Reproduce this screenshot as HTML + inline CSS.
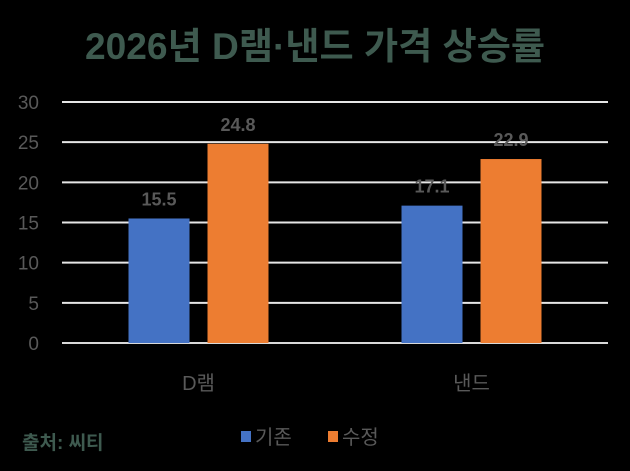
<!DOCTYPE html>
<html><head><meta charset="utf-8"><style>
html,body{margin:0;padding:0;background:#000;width:630px;height:471px;overflow:hidden}
svg text{font-family:"Liberation Sans","Noto Sans CJK KR",sans-serif}
</style></head><body>
<svg id="c" width="630" height="471">
<text x="315" y="59" text-anchor="middle" font-size="37" font-weight="bold" fill="#3e5a4f" textLength="460" lengthAdjust="spacingAndGlyphs">2026년 D램·낸드 가격 상승률</text>
<g id="grid"></g><g id="bars"></g>
<text x="22" y="449" font-size="19" font-weight="bold" fill="#3e5a4f">출처: 씨티</text>
<g>
<rect x="241" y="431" width="10" height="11" fill="#4472c4"/>
<text x="255" y="444" font-size="20" fill="#595959">기존</text>
<rect x="328" y="431" width="10" height="11" fill="#ed7d31"/>
<text x="342" y="444" font-size="20" fill="#595959">수정</text>
</g>
</svg>
<script>
const categories=["D램","낸드"];
const original=[15.5,17.1];
const revised=[24.8,22.9];
const ticks=[0,5,10,15,20,25,30];
const NS="http://www.w3.org/2000/svg";
const y0=343,y1=102,x0=62,x1=608;
const y=v=>y0-(v/30)*(y0-y1);
const cw=(x1-x0)/categories.length;
function mk(t,a,p){const e=document.createElementNS(NS,t);for(const k in a)e.setAttribute(k,a[k]);p.appendChild(e);return e;}
const g=document.getElementById('grid'),b=document.getElementById('bars');
ticks.forEach(t=>{
 const l=mk('line',{x1:x0,x2:x1,y1:y(t),y2:y(t),stroke:t===0?'#d9d9d9':'#e6e6e6','stroke-width':2},g);
 
 
 const tx=mk('text',{x:39,y:y(t)+7,'text-anchor':'end','font-size':19,fill:'#595959'},g);
 tx.textContent=t;
 
 
});
categories.forEach((c,i)=>{
 const cx=x0+cw*(i+0.5);
 [[original,'#4472c4',-70,'original'],[revised,'#ed7d31',9,'revised']].forEach(([arr,col,off,nm])=>{
  const r=mk('rect',{x:cx+off,y:y(arr[i]),width:61,height:y0-y(arr[i]),fill:col},b);
  
  
  const t=mk('text',{x:cx+off+30.5,y:y(arr[i])-13,'text-anchor':'middle','font-size':18,'font-weight':'bold',fill:'#595959'},b);
  t.textContent=arr[i].toFixed(1);
  
  
 });
 const t=mk('text',{x:cx,y:390,'text-anchor':'middle','font-size':20,fill:'#595959'},b);
 t.textContent=c;
 
 
});
</script>
</body></html>
